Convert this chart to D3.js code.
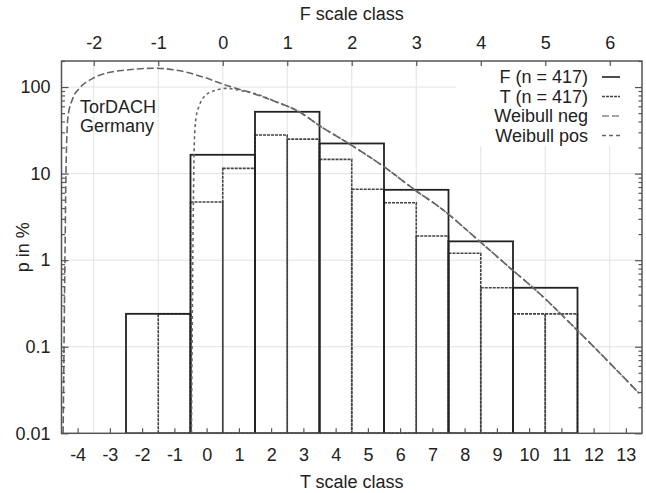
<!DOCTYPE html>
<html>
<head>
<meta charset="utf-8">
<script src="https://cdn.jsdelivr.net/npm/d3@7"></script>
<style>
  body { margin: 0; background: #fff; }
  text { font-family: "Liberation Sans", Arial, sans-serif; fill: #222; }
</style>
</head>
<body>
<div id="chart"></div>
<script>
// T scale histogram (classes and percent)
var tClasses = [-1, 0, 1, 2, 3, 4, 5, 6, 7, 8, 9, 10, 11];
var tPercent = [0.24, 4.7, 11.5, 27.9, 25.0, 14.6, 6.6, 4.6, 1.9, 1.2, 0.48, 0.24, 0.24];

// F scale histogram
var fClasses = [-1, 0, 1, 2, 3, 4, 5];
var fPercent = [0.24, 16.5, 51.8, 22.3, 6.5, 1.65, 0.48];

// Weibull curves (T position, percent)
var negT = [-4.45, -4.42, -4.39, -4.36, -4.3, -4.15, -3.94, -3.53, -3.01, -2.5, -1.67, -0.95, -0.12, 0.6, 1.43, 2.15, 2.87, 3.49, 4.48, 5.5, 6.5, 7.21, 8.45, 9.43, 10.21, 11.44, 13.41];
var negP = [0.01, 0.12, 1.3, 11, 45, 74, 97, 126, 148, 157, 165, 157, 131, 105, 84.5, 67.6, 51.8, 36, 21.4, 12, 6.3, 4.13, 1.67, 0.8, 0.45, 0.162, 0.029];
var posT = [-0.47, -0.44, -0.41, -0.38, -0.33, -0.22, -0.02, 0.29, 0.6, 1.01, 1.63, 2.15, 2.87, 3.49, 4.48, 5.5, 6.5, 7.21, 8.45, 9.43, 10.21, 11.44, 13.41];
var posP = [0.01, 0.35, 4.9, 24, 43.5, 62, 81, 92, 96.6, 92, 81, 67.6, 51.8, 36, 21.4, 12, 6.3, 4.13, 1.67, 0.8, 0.45, 0.162, 0.029];

var tTicks = d3.range(-4, 14);
var fTicks = d3.range(-2, 7);
var yTicks = [0.01, 0.1, 1, 10, 100];
var yTickLabels = ["0.01", "0.1", "1", "10", "100"];

var legendItems = ["F (n = 417)", "T (n = 417)", "Weibull neg", "Weibull pos"];

var W = 646, H = 493;
var pLeft = 61.5, pRight = 642, pTop = 61, pBottom = 433.3;

var svg = d3.select("#chart").append("svg")
    .attr("width", W)
    .attr("height", H);

var x = d3.scaleLinear().domain([-4.5, 13.5]).range([pLeft, pRight]);
var xF = d3.scaleLinear().domain([-2.5, 6.5]).range([pLeft, pRight]);
var y = d3.scaleLog().domain([0.01, 200]).range([pBottom, pTop]);

svg.append("defs").append("clipPath").attr("id", "clip")
  .append("rect")
    .attr("x", pLeft).attr("y", pTop)
    .attr("width", pRight - pLeft).attr("height", pBottom - pTop);

// grid
var grid = svg.append("g").attr("stroke", "#e2e2e2").attr("stroke-width", 1);
grid.selectAll(".gx").data(fTicks).enter().append("line")
    .attr("x1", function(d) { return xF(d); }).attr("x2", function(d) { return xF(d); })
    .attr("y1", pTop).attr("y2", pBottom);
grid.selectAll(".gy").data(yTicks.slice(1)).enter().append("line")
    .attr("x1", pLeft).attr("x2", pRight)
    .attr("y1", function(d) { return y(d); }).attr("y2", function(d) { return y(d); });

var plot = svg.append("g").attr("clip-path", "url(#clip)");

// T boxes (dotted)
var tData = tClasses.map(function(c, i) { return {c: c, p: tPercent[i]}; });
plot.append("g").selectAll("rect").data(tData).enter().append("rect")
    .attr("x", function(d) { return x(d.c - 0.5); })
    .attr("width", function(d) { return x(d.c + 0.5) - x(d.c - 0.5); })
    .attr("y", function(d) { return y(d.p); })
    .attr("height", function(d) { return pBottom - y(d.p); })
    .attr("fill", "none")
    .attr("stroke", "#444")
    .attr("stroke-width", 1.6)
    .attr("stroke-dasharray", "3,1");

// F boxes (solid), one F class = two T classes
var fData = fClasses.map(function(c, i) { return {c: 2 * c + 0.5, p: fPercent[i]}; });
plot.append("g").selectAll("rect").data(fData).enter().append("rect")
    .attr("x", function(d) { return x(d.c - 1); })
    .attr("width", function(d) { return x(d.c + 1) - x(d.c - 1); })
    .attr("y", function(d) { return y(d.p); })
    .attr("height", function(d) { return pBottom - y(d.p); })
    .attr("fill", "none")
    .attr("stroke", "#222")
    .attr("stroke-width", 1.8);

// Weibull curves
var line = d3.line()
    .x(function(d) { return x(d[0]); })
    .y(function(d) { return y(d[1]); })
    .curve(d3.curveMonotoneX);

plot.append("path")
    .datum(d3.zip(negT, negP))
    .attr("d", line)
    .attr("fill", "none")
    .attr("stroke", "#666")
    .attr("stroke-width", 1.6)
    .attr("stroke-dasharray", "7,3");

plot.append("path")
    .datum(d3.zip(posT, posP))
    .attr("d", line)
    .attr("fill", "none")
    .attr("stroke", "#666")
    .attr("stroke-width", 1.6)
    .attr("stroke-dasharray", "3,3");

// TorDACH label
svg.append("text").attr("x", 80).attr("y", 113).style("font-size", "18px").text("TorDACH");
svg.append("text").attr("x", 80).attr("y", 132).style("font-size", "18px").text("Germany");

// legend with opaque background
svg.append("rect").attr("x", 456).attr("y", pTop + 1).attr("width", pRight - 457).attr("height", 84).attr("fill", "#fff");
var legendStyles = [
  {stroke: "#222", dash: null},
  {stroke: "#444", dash: "3,1"},
  {stroke: "#888", dash: "7,3"},
  {stroke: "#666", dash: "4,3"}
];
var lg = svg.append("g").selectAll("g").data(legendItems).enter().append("g")
    .attr("transform", function(d, i) { return "translate(0," + (77 + i * 19.5) + ")"; });
lg.append("text")
    .attr("x", 588).attr("dy", "0.35em")
    .attr("text-anchor", "end")
    .style("font-size", "18px")
    .text(function(d) { return d; });
lg.append("line")
    .attr("x1", 602).attr("x2", 620)
    .attr("stroke", function(d, i) { return legendStyles[i].stroke; })
    .attr("stroke-width", 1.6)
    .attr("stroke-dasharray", function(d, i) { return legendStyles[i].dash; });

// axes
var minorTicks = [];
[0.01, 0.1, 1, 10, 100].forEach(function(dec) {
  for (var k = 2; k <= 9; k++) if (dec * k <= 200) minorTicks.push(dec * k);
});

function styleAxis(g) {
  g.select(".domain").remove();
  g.selectAll(".tick line").attr("stroke", "#555").attr("stroke-width", 1.2);
  g.selectAll(".tick text").style("font-size", "18px").attr("fill", "#222")
    .style("font-family", "'Liberation Sans', Arial, sans-serif");
}

svg.append("g")
    .attr("transform", "translate(0," + pBottom + ")")
    .call(d3.axisBottom(x).tickValues(tTicks).tickSize(-5).tickPadding(15).tickFormat(String))
    .call(styleAxis);

svg.append("g")
    .attr("transform", "translate(0," + pTop + ")")
    .call(d3.axisTop(xF).tickValues(fTicks).tickSize(-5).tickPadding(12).tickFormat(String))
    .call(styleAxis);

svg.append("g")
    .attr("transform", "translate(" + pLeft + ",0)")
    .call(d3.axisLeft(y).tickValues(yTicks).tickSize(-7).tickPadding(11)
      .tickFormat(function(d, i) { return yTickLabels[i]; }))
    .call(styleAxis);
svg.append("g")
    .attr("transform", "translate(" + pLeft + ",0)")
    .call(d3.axisLeft(y).tickValues(minorTicks).tickSize(-3.5).tickFormat(""))
    .call(styleAxis);
svg.append("g")
    .attr("transform", "translate(" + pRight + ",0)")
    .call(d3.axisRight(y).tickValues(yTicks).tickSize(-7).tickFormat(""))
    .call(styleAxis);
svg.append("g")
    .attr("transform", "translate(" + pRight + ",0)")
    .call(d3.axisRight(y).tickValues(minorTicks).tickSize(-3.5).tickFormat(""))
    .call(styleAxis);

// border
svg.append("rect")
    .attr("x", pLeft).attr("y", pTop)
    .attr("width", pRight - pLeft).attr("height", pBottom - pTop)
    .attr("fill", "none").attr("stroke", "#555").attr("stroke-width", 1.5);

// axis titles
svg.append("text").attr("x", (pLeft + pRight) / 2).attr("y", 20)
    .attr("text-anchor", "middle").style("font-size", "18px").text("F scale class");
svg.append("text").attr("x", (pLeft + pRight) / 2).attr("y", 488)
    .attr("text-anchor", "middle").style("font-size", "18px").text("T scale class");
svg.append("text")
    .attr("transform", "translate(29," + ((pTop + pBottom) / 2) + ") rotate(-90)")
    .attr("text-anchor", "middle").style("font-size", "18px").text("p in %");
</script>
</body>
</html>
